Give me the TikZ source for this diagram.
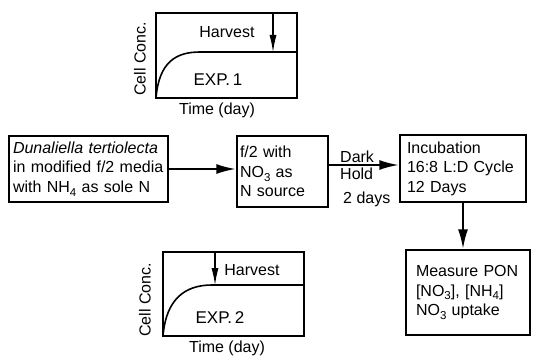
\documentclass[tikz,border=0pt]{standalone}
\usepackage{fontspec}
\setmainfont{Liberation Sans}
\usetikzlibrary{arrows.meta}
\newcommand{\lsub}[1]{\raisebox{-0.45ex}{\fontsize{11.5}{11.5}\selectfont #1}}
\begin{document}
\begin{tikzpicture}[x=1pt,y=-1pt,
  font=\fontsize{16}{19.5}\selectfont,
  box/.style={draw, line width=1.4pt, inner ysep=0pt, align=left},
  arr/.style={line width=2.4pt, -{Latex[length=20pt,width=10pt]}},
  harr/.style={line width=1.1pt, -{Latex[length=17pt,width=7pt]}},
  frame/.style={line width=1.4pt},
  curve/.style={line width=1.6pt},
  lbl/.style={inner sep=0pt}]
\useasboundingbox (0,0) rectangle (534,358);

% process boxes
\node[box, inner xsep=4pt, minimum width=159pt, minimum height=66pt, text width=151pt] (b1) at (88.5,169)
  {\textit{Dunaliella tertiolecta}\\in modified f/2 media\\with NH\lsub{4} as sole N};
\node[box, inner xsep=3pt, minimum width=91pt, minimum height=71pt, text width=85pt] (b2) at (282.5,171.5)
  {f/2 with\\NO\lsub{3} as\\N source};
\node[box, inner xsep=7pt, minimum width=126pt, minimum height=67pt, text width=112pt] (b3) at (463,168.5)
  {Incubation\\16:8 L:D Cycle\\12 Days};
\node[box, inner xsep=10pt, minimum width=124pt, minimum height=85pt, text width=104pt] (b4) at (468,292.5)
  {Measure PON\\{}[NO\lsub{3}], [NH\lsub{4}]\\NO\lsub{3} uptake};

% connectors
\draw[arr] (b1.east) -- (b1.east -| b2.west);
\draw[arr] ([yshift=6.5pt]b2.east) -- ([yshift=6.5pt]b2.east -| b3.west);
\draw[arr] (b3.south) -- (b3.south |- b4.north);

\node[lbl, anchor=base west] (dark) at (340,162) {Dark};
\node[lbl, anchor=base west] (hold) at (340,179) {Hold};
\node[lbl, anchor=base west] (days) at (343,203) {2 days};

% EXP. 1 graph
\draw[frame] (156,13) rectangle (297,98);
\draw[curve] (156,98) .. controls (159,62) and (176,52) .. (200,52) -- (297,52);
\coordinate (h1s) at (273,13);
\coordinate (h1e) at (273,52);
\draw[harr] (h1s) -- (h1e);
\node[lbl] (harv1) at (227,32) {Harvest};
\node[lbl, font=\fontsize{17}{19}\selectfont] (exp1) at (218,80) {EXP.\,1};
\node[lbl] (time1) at (217,110) {Time (day)};
\node[lbl, rotate=90] (cell1) at (140,59) {Cell Conc.};

% EXP. 2 graph
\draw[frame] (163,252) rectangle (304,336);
\draw[curve] (163,336) .. controls (166,300) and (184,285) .. (212,285) -- (304,285);
\coordinate (h2s) at (215,252);
\coordinate (h2e) at (215,285);
\draw[harr] (h2s) -- (h2e);
\node[lbl] (harv2) at (252,270) {Harvest};
\node[lbl, font=\fontsize{17}{19}\selectfont] (exp2) at (220,318) {EXP.\,2};
\node[lbl] (time2) at (227,348) {Time (day)};
\node[lbl, rotate=90] (cell2) at (145,300) {Cell Conc.};
\end{tikzpicture}
\end{document}
